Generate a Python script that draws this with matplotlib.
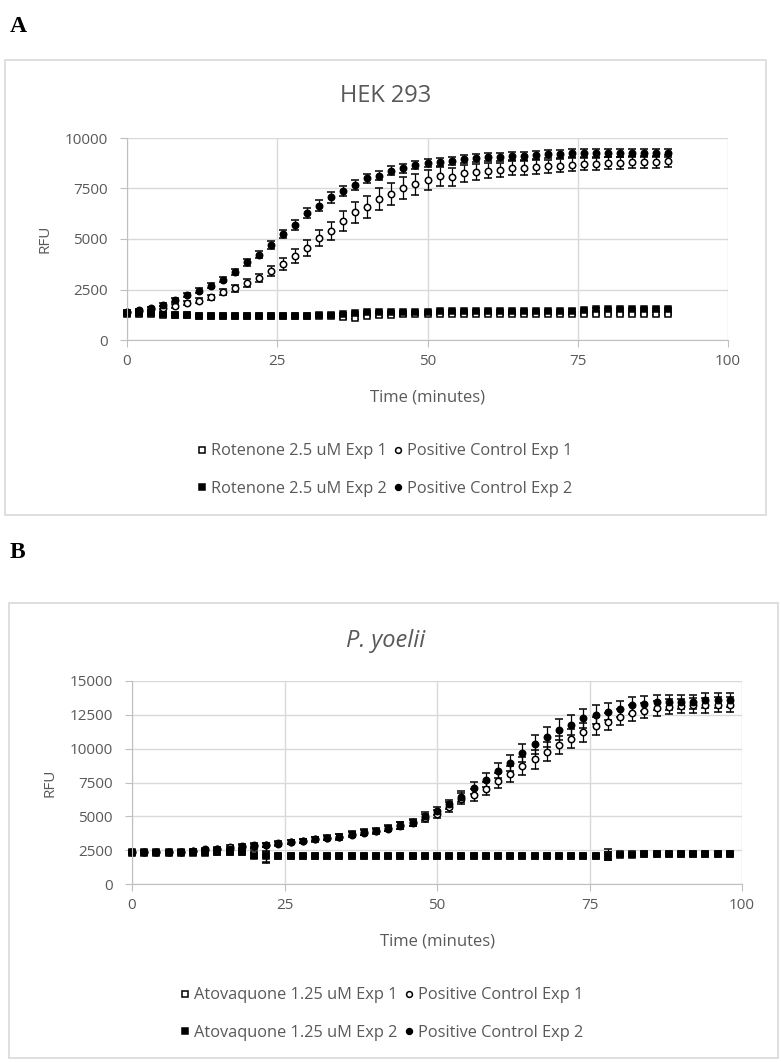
import matplotlib
matplotlib.use("Agg")
import matplotlib.pyplot as plt
from matplotlib.lines import Line2D
from matplotlib.patches import Rectangle

# ---- panel A: HEK 293 ----
time_a = [0, 2, 4, 6, 8, 10, 12, 14, 16, 18, 20, 22, 24, 26, 28, 30, 32, 34, 36, 38,
          40, 42, 44, 46, 48, 50, 52, 54, 56, 58, 60, 62, 64, 66, 68, 70, 72, 74, 76, 78,
          80, 82, 84, 86, 88, 90]
rot1_a = [1300, 1310, 1300, 1260, 1230, 1220, 1210, 1200, 1200, 1200, 1200, 1200, 1200, 1200, 1200,
          1200, 1210, 1210, 1120, 1100, 1200, 1220, 1250, 1270, 1280, 1290, 1290, 1300, 1300, 1300,
          1300, 1290, 1290, 1280, 1280, 1280, 1290, 1300, 1300, 1300, 1300, 1300, 1300, 1300, 1310, 1300]
rot1_a_err = [60, 60, 60, 60, 60, 60, 60, 60, 60, 60, 60, 60, 60, 60, 60, 60, 60, 60, 80, 80, 60, 60, 60,
              60, 60, 60, 60, 60, 60, 60, 60, 60, 60, 60, 60, 60, 60, 60, 60, 60, 60, 60, 60, 60, 60, 60]
rot2_a = [1320, 1340, 1330, 1270, 1240, 1220, 1210, 1200, 1200, 1200, 1200, 1200, 1200, 1200, 1200,
          1210, 1220, 1250, 1300, 1330, 1370, 1390, 1400, 1400, 1400, 1410, 1420, 1420, 1420, 1430,
          1430, 1430, 1440, 1440, 1440, 1440, 1450, 1460, 1500, 1510, 1520, 1520, 1520, 1520, 1530, 1530]
rot2_a_err = [50, 50, 50, 50, 50, 50, 50, 50, 50, 50, 50, 50, 50, 50, 50, 50, 50, 50, 50, 50, 50, 50, 50,
              50, 50, 50, 50, 50, 50, 50, 50, 50, 50, 50, 50, 50, 50, 50, 50, 50, 50, 50, 50, 50, 50, 50]
pc1_a = [1400, 1450, 1520, 1600, 1700, 1830, 1950, 2110, 2360, 2560, 2820, 3070, 3430, 3760, 4170,
         4550, 5050, 5410, 5910, 6320, 6570, 6980, 7230, 7510, 7720, 7920, 8100, 8050, 8250, 8300,
         8380, 8420, 8500, 8520, 8560, 8600, 8620, 8680, 8720, 8700, 8760, 8780, 8800, 8820, 8830, 8860]
pc1_a_err = [80, 80, 90, 90, 100, 110, 120, 130, 150, 160, 180, 200, 250, 300, 350, 400, 420, 450, 500,
             520, 550, 550, 550, 550, 520, 500, 480, 450, 420, 400, 380, 360, 350, 340, 330, 320, 320,
             310, 300, 300, 300, 300, 300, 300, 300, 300]
pc2_a = [1400, 1480, 1570, 1750, 1980, 2220, 2440, 2690, 2990, 3350, 3840, 4220, 4700, 5250, 5710,
         6290, 6650, 7060, 7380, 7670, 8000, 8130, 8380, 8500, 8660, 8750, 8820, 8880, 8950, 9000,
         9040, 9070, 9100, 9130, 9160, 9200, 9220, 9260, 9260, 9250, 9270, 9270, 9280, 9270, 9280, 9280]
pc2_a_err = [60, 60, 70, 80, 90, 100, 110, 120, 130, 150, 160, 180, 200, 220, 240, 250, 260, 260, 250,
             240, 230, 220, 220, 210, 200, 200, 200, 200, 200, 200, 200, 200, 200, 200, 200, 200, 200,
             200, 200, 200, 200, 200, 200, 200, 200, 200]

# ---- panel B: P. yoelii ----
time_b = [0, 2, 4, 6, 8, 10, 12, 14, 16, 18, 20, 22, 24, 26, 28, 30, 32, 34, 36, 38,
          40, 42, 44, 46, 48, 50, 52, 54, 56, 58, 60, 62, 64, 66, 68, 70, 72, 74, 76, 78,
          80, 82, 84, 86, 88, 90, 92, 94, 96, 98]
ato1_b = [2350, 2350, 2340, 2330, 2340, 2350, 2360, 2370, 2380, 2390, 2250, 2120, 2100, 2100, 2100,
          2100, 2100, 2100, 2100, 2100, 2100, 2100, 2100, 2100, 2100, 2100, 2100, 2100, 2100, 2100,
          2100, 2100, 2100, 2100, 2100, 2100, 2100, 2100, 2100, 2150, 2200, 2220, 2250, 2250, 2250,
          2250, 2250, 2250, 2250, 2250]
ato1_b_err = [80, 80, 80, 80, 80, 80, 80, 80, 80, 80, 300, 600, 80, 80, 80, 80, 80, 80, 80, 80, 80, 80,
              80, 80, 80, 80, 80, 80, 80, 80, 80, 80, 80, 80, 80, 80, 80, 80, 80, 400, 80, 80, 80, 80,
              80, 80, 80, 80, 80, 80]
ato2_b = [2300, 2300, 2300, 2290, 2300, 2310, 2320, 2330, 2330, 2330, 2100, 2060, 2050, 2050, 2050,
          2050, 2050, 2050, 2050, 2050, 2050, 2050, 2050, 2050, 2050, 2050, 2050, 2050, 2050, 2050,
          2050, 2050, 2050, 2050, 2050, 2050, 2050, 2050, 2050, 2080, 2150, 2150, 2180, 2180, 2180,
          2180, 2180, 2180, 2180, 2180]
ato2_b_err = [60, 60, 60, 60, 60, 60, 60, 60, 60, 60, 200, 400, 60, 60, 60, 60, 60, 60, 60, 60, 60, 60,
              60, 60, 60, 60, 60, 60, 60, 60, 60, 60, 60, 60, 60, 60, 60, 60, 60, 300, 60, 60, 60, 60,
              60, 60, 60, 60, 60, 60]
pc1_b = [2350, 2350, 2350, 2350, 2400, 2450, 2550, 2620, 2700, 2800, 2880, 2900, 3000, 3080, 3150,
         3300, 3400, 3480, 3650, 3800, 3900, 4100, 4300, 4500, 4850, 5200, 5700, 6300, 6560, 7050,
         7620, 8120, 8740, 9230, 9770, 10270, 10720, 11210, 11660, 12000, 12330, 12650, 12820, 13000,
         13100, 13150, 13200, 13200, 13250, 13250]
pc1_b_err = [100, 100, 100, 100, 100, 120, 120, 150, 150, 150, 150, 150, 150, 150, 150, 180, 180, 200,
             200, 200, 200, 220, 250, 250, 300, 300, 350, 400, 450, 500, 550, 600, 650, 700, 700, 700,
             700, 700, 650, 650, 600, 600, 550, 550, 550, 550, 550, 550, 550, 550]
pc2_b = [2350, 2350, 2350, 2330, 2380, 2420, 2480, 2550, 2620, 2720, 2800, 2850, 2990, 3090, 3170,
         3340, 3420, 3500, 3710, 3830, 3950, 4150, 4350, 4550, 5020, 5390, 5890, 6460, 7080, 7690,
         8360, 8930, 9680, 10340, 10840, 11410, 11760, 12250, 12500, 12740, 12940, 13190, 13310,
         13440, 13440, 13450, 13450, 13560, 13560, 13600]
pc2_b_err = [100, 100, 100, 100, 100, 100, 120, 120, 150, 150, 150, 150, 150, 150, 150, 150, 180, 180,
             200, 200, 200, 220, 250, 250, 300, 300, 350, 400, 450, 500, 550, 600, 650, 700, 750, 750,
             750, 700, 700, 650, 600, 600, 550, 550, 550, 550, 550, 550, 550, 550]

labels_a = ["Rotenone 2.5 uM Exp 1", "Rotenone 2.5 uM Exp 2",
            "Positive Control Exp 1", "Positive Control Exp 2"]
labels_b = ["Atovaquone 1.25 uM Exp 1", "Atovaquone 1.25 uM Exp 2",
            "Positive Control Exp 1", "Positive Control Exp 2"]

TXT = "#595959"
GRID = "#d9d9d9"
FONT = "Open Sans"

W, H = 781, 1062
fig = plt.figure(figsize=(W / 100, H / 100), dpi=100)


def fx(px):
    return px / W


def fy(py):
    return 1 - py / H


def panel(box, ax_rect, t, series, labels, ymax, title, italic, title_y,
          xlab_y, rfu_x, leg_y, leg_x):
    # outer frame
    x0, y0, x1, y1 = box
    fig.patches.append(Rectangle((fx(x0), fy(y1)), fx(x1 - x0), (y1 - y0) / H,
                                 transform=fig.transFigure, fill=False,
                                 edgecolor=GRID, linewidth=1.2))
    l, t0, r, b = ax_rect
    ax = fig.add_axes([fx(l), fy(b), fx(r - l), (b - t0) / H])
    ax.set_xlim(0, 100)
    ax.set_ylim(0, ymax)
    ax.set_xticks([0, 25, 50, 75, 100])
    ax.set_yticks(range(0, ymax + 1, 2500))
    ax.grid(True, color=GRID, linewidth=1)
    ax.set_axisbelow(True)
    for s in ["top", "right"]:
        ax.spines[s].set_visible(False)
    for s in ["left", "bottom"]:
        ax.spines[s].set_color("#bfbfbf")
    ax.tick_params(colors="#bfbfbf", labelcolor=TXT, labelsize=11, length=5)
    ax.tick_params(axis="x", pad=5)
    ax.tick_params(axis="y", pad=9)
    for lab in ax.get_xticklabels() + ax.get_yticklabels():
        lab.set_fontfamily(FONT)

    styles = [("s", "white"), ("s", "black"), ("o", "white"), ("o", "black")]
    handles = []
    for (y, e), (m, fc) in zip(series, styles):
        ax.errorbar(t, y, yerr=e, fmt=m, ms=4.6 if m == "o" else 4.4, mfc=fc, mec="black",
                    mew=1.1, ecolor="black", elinewidth=0.9, capsize=3, capthick=0.9,
                    clip_on=False)
        handles.append(Line2D([], [], ls="none", marker=m, ms=4.2, mfc=fc, mec="black", mew=1.1))

    fig.text(fx(386), fy(title_y), title, ha="center", va="center", fontsize=17,
             color=TXT, family=FONT, style="italic" if italic else "normal")
    fig.text(fx((l + r) / 2), fy(xlab_y), "Time (minutes)", ha="center", va="center",
             fontsize=12, color=TXT, family=FONT)
    fig.text(fx(rfu_x), fy((t0 + b) / 2), "RFU", ha="center", va="center", rotation=90,
             fontsize=11, color=TXT, family=FONT)
    leg = fig.legend(handles, labels, ncol=2, loc="center", bbox_to_anchor=(fx(leg_x), fy(leg_y)),
                     frameon=False, columnspacing=0.2, handletextpad=0.05, handlelength=1.0,
                     labelspacing=1.3, prop={"family": FONT, "size": 11.8})
    for txt in leg.get_texts():
        txt.set_color(TXT)
    return ax


panel((5, 60, 766, 515), (127, 138, 728, 340), time_a,
      [(rot1_a, rot1_a_err), (rot2_a, rot2_a_err), (pc1_a, pc1_a_err), (pc2_a, pc2_a_err)],
      labels_a, 10000, "HEK 293", False, 96, 398, 45, 470, 383)

panel((9, 603, 778, 1058), (132, 681, 742, 884), time_b,
      [(ato1_b, ato1_b_err), (ato2_b, ato2_b_err), (pc1_b, pc1_b_err), (pc2_b, pc2_b_err)],
      labels_b, 15000, "P. yoelii", True, 641, 942, 50, 1014, 380)

fig.text(fx(10), fy(26), "A", fontsize=17, fontweight="bold", family="Liberation Serif",
         va="center", ha="left")
fig.text(fx(10), fy(552), "B", fontsize=17, fontweight="bold", family="Liberation Serif",
         va="center", ha="left")

fig.savefig("out.png", dpi=100)
